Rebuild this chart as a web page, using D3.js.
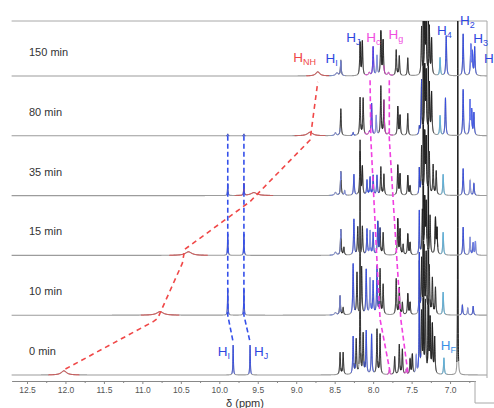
<!DOCTYPE html>
<html>
<head>
<meta charset="utf-8">
<script src="https://cdn.jsdelivr.net/npm/d3@7"></script>
<style>
body { margin: 0; background: #fff; }
svg { display: block; font-family: "Liberation Sans", Arial, sans-serif; }
</style>
</head>
<body>
<div id="chart"></div>
<script>
var svgWidth = 494
var svgHeight = 408

// stacked traces, bottom to top
var times = ["0 min", "10 min", "15 min", "35 min", "80 min", "150 min"]

var ppmTicks = [12.5, 12.0, 11.5, 11.0, 10.5, 10.0, 9.5, 9.0, 8.5, 8.0, 7.5, 7.0]
var minorTicks = [12.25, 11.75, 11.25, 10.75, 10.25, 9.75, 9.25, 8.75, 8.25, 7.75, 7.25, 6.75]

// peaks: [ppm, height (1 = gap between traces), colour key, half width in ppm]
var peaks0 = [
    [12.02, 0.07, "r", 0.04],
    [9.82, 0.5, "b", 0.004], [9.60, 0.5, "b", 0.004],
    [8.43, 0.37, "k"], [8.39, 0.37, "k"],
    [8.26, 0.63, "b"], [8.22, 0.58, "k"], [8.17, 3.9, "k", 0.003], [8.13, 0.67, "k"],
    [8.09, 0.72, "b"], [8.02, 0.67, "b"], [7.95, 0.75, "k"], [7.91, 0.67, "k"],
    [7.79, 0.08, "m"], [7.72, 0.3, "k"], [7.66, 0.5, "k"], [7.62, 0.42, "k"],
    [7.57, 0.08, "m"], [7.52, 0.25, "k"], [7.49, 0.33, "k"],
    [7.44, 0.3, "lb"], [7.40, 1.85, "b", 0.004],
    [7.37, 1.0, "k"], [7.347, 8, "k", 0.0015], [7.32, 1.2, "k"], [7.282, 8, "k", 0.0015],
    [7.26, 0.9, "k"], [7.23, 0.8, "k"], [7.20, 0.6, "k"],
    [7.08, 0.28, "c"], [6.90, 8, "k", 0.002]
]
var peaks10 = [
    [10.77, 0.06, "r", 0.05],
    [9.89, 0.43, "b", 0.004], [9.68, 0.43, "b", 0.004],
    [8.49, 0.04, "lb", 0.015],
    [8.43, 0.32, "k"], [8.39, 0.12, "k"],
    [8.26, 0.85, "b"], [8.21, 0.7, "k"], [8.15, 0.8, "k"], [8.09, 0.75, "b"],
    [8.04, 0.6, "lb"], [8.00, 0.55, "b"],
    [7.95, 0.8, "b"], [7.91, 0.75, "k"], [7.87, 0.5, "k"],
    [7.70, 0.6, "k"], [7.66, 0.45, "k"], [7.62, 0.2, "k"], [7.55, 0.35, "k"], [7.52, 0.2, "k"],
    [7.40, 1.0, "b", 0.004],
    [7.37, 0.9, "k"], [7.34, 1.1, "k"], [7.31, 1.0, "k"],
    [7.27, 0.8, "k"], [7.23, 0.6, "k"], [7.19, 0.45, "k"],
    [7.09, 0.38, "c"],
    [6.84, 0.17, "b"], [6.77, 0.12, "lb"], [6.70, 0.15, "b"]
]
var peaks15 = [
    [10.40, 0.06, "r", 0.05],
    [9.89, 0.36, "b", 0.004], [9.68, 0.36, "b", 0.004],
    [8.49, 0.05, "lb", 0.015],
    [8.42, 0.43, "k"], [8.38, 0.13, "k"],
    [8.25, 0.6, "b"], [8.20, 0.47, "k"], [8.14, 0.48, "k"], [8.08, 0.43, "b"],
    [8.04, 0.4, "lb"], [8.00, 0.37, "b"],
    [7.94, 0.55, "b"], [7.91, 0.43, "k"], [7.87, 0.37, "k"],
    [7.68, 0.6, "k"], [7.65, 0.42, "k"], [7.61, 0.17, "k"], [7.55, 0.35, "k"], [7.52, 0.2, "k"],
    [7.40, 0.73, "b", 0.004],
    [7.36, 0.72, "k"], [7.33, 0.9, "k"], [7.31, 0.83, "k"],
    [7.26, 0.65, "k"], [7.19, 0.6, "k"], [7.17, 0.42, "k"],
    [7.09, 0.38, "c"],
    [6.83, 0.47, "b"], [6.74, 0.3, "lb"], [6.70, 0.2, "b"], [6.67, 0.23, "lb"]
]
var peaks35 = [
    [9.55, 0.05, "r", 0.05],
    [9.89, 0.2, "b", 0.004], [9.68, 0.2, "b", 0.004],
    [8.49, 0.05, "lb", 0.015],
    [8.42, 0.4, "k"], [8.37, 0.08, "lb"],
    [8.25, 0.35, "b"], [8.17, 0.72, "k"], [8.14, 0.47, "k"],
    [8.08, 0.25, "b"], [8.04, 0.3, "b"], [8.00, 0.33, "b"],
    [7.95, 0.33, "b"], [7.90, 0.47, "k"], [7.86, 0.35, "k"],
    [7.68, 0.5, "k"], [7.65, 0.35, "k"], [7.55, 0.33, "k"], [7.52, 0.15, "k"],
    [7.40, 0.43, "b", 0.004],
    [7.37, 0.8, "k"], [7.33, 1.0, "k"], [7.31, 0.9, "k"],
    [7.27, 0.7, "k"], [7.22, 0.5, "k"], [7.18, 0.4, "k"],
    [7.09, 0.35, "c"],
    [6.83, 0.45, "b"], [6.74, 0.25, "lb"], [6.69, 0.2, "b"]
]
var peaks80 = [
    [8.82, 0.06, "r", 0.04],
    [9.89, 0.03, "b", 0.004], [9.68, 0.03, "b", 0.004],
    [8.49, 0.05, "lb", 0.012],
    [8.42, 0.45, "k"], [8.26, 0.05, "b"],
    [8.17, 0.63, "k"], [8.13, 0.62, "k"],
    [8.05, 0.05, "m", 0.012], [8.02, 0.53, "b"], [7.96, 0.33, "lb"],
    [7.90, 0.82, "k"], [7.86, 0.58, "k"], [7.80, 0.04, "m", 0.012],
    [7.68, 0.48, "k"], [7.65, 0.33, "k"], [7.55, 0.37, "k"],
    [7.40, 0.12, "b"],
    [7.37, 0.9, "k"], [7.33, 1.1, "k"], [7.31, 1.0, "k"],
    [7.27, 0.85, "k"], [7.24, 0.7, "k"],
    [7.13, 0.33, "c"], [7.06, 0.63, "b"],
    [6.83, 0.77, "b"], [6.74, 0.57, "b"], [6.72, 0.4, "lb"], [6.69, 0.37, "b"]
]
var peaks150 = [
    [8.72, 0.07, "r", 0.03],
    [8.47, 0.05, "lb", 0.02],
    [8.42, 0.25, "k"],
    [8.17, 0.55, "k"], [8.14, 0.57, "k"],
    [8.05, 0.05, "m", 0.012], [8.00, 0.48, "b"], [7.95, 0.33, "lb"],
    [7.90, 0.73, "k"], [7.87, 0.58, "k"], [7.80, 0.05, "m", 0.012],
    [7.70, 0.43, "k"], [7.66, 0.33, "k"], [7.55, 0.3, "k"],
    [7.37, 0.8, "k"], [7.33, 1.0, "k"], [7.31, 0.9, "k"],
    [7.27, 0.8, "k"], [7.24, 0.6, "k"],
    [7.13, 0.3, "c"], [7.05, 0.67, "b"],
    [6.83, 0.7, "b"], [6.73, 0.5, "b"], [6.71, 0.37, "lb"], [6.68, 0.47, "b"]
]
var spectra = [peaks0, peaks10, peaks15, peaks35, peaks80, peaks150]

// dashed guides that follow the moving signals: [ppm, trace level]
var hnhTrack = [[12.0, 0.1], [10.85, 0.9], [10.8, 0.95], [10.48, 1.87], [10.45, 2.1], [9.6, 2.9], [8.82, 3.93], [8.72, 4.9]]
var hiTrack = [[9.89, 4.0], [9.89, 1.0], [9.82, 0.55]]
var hjTrack = [[9.68, 4.0], [9.68, 1.0], [9.60, 0.55]]
var hcTrack = [[8.04, 4.93], [8.03, 3.95], [7.95, 1.9], [7.91, 0.93], [7.78, 0.05]]
var hgTrack = [[7.79, 4.93], [7.79, 3.95], [7.69, 1.9], [7.64, 0.93], [7.55, 0.05]]

// peak assignments: [main, subscript, ppm, level, colour key]
var assignLabels = [
    ["H", "NH", 9.04, 5.23, "r"],
    ["H", "I", 8.62, 5.22, "B"],
    ["H", "J", 8.35, 5.57, "B"],
    ["H", "c", 8.09, 5.57, "M"],
    ["H", "g", 7.80, 5.62, "M"],
    ["H", "4", 7.17, 5.68, "B"],
    ["H", "2", 6.87, 5.85, "B"],
    ["H", "3", 6.70, 5.55, "B"],
    ["H", "", 6.56, 5.22, "B"],
    ["H", "I", 10.02, 0.32, "B"],
    ["H", "J", 9.55, 0.32, "B"],
    ["H", "F", 7.12, 0.42, "F"]
]

var colors = {
    k: "#1e1e1e", b: "#2f47e6", lb: "#8090f0", c: "#52b6e6", m: "#f03ce0", r: "#f04848",
    B: "#2f47e0", M: "#f04ee0", F: "#3a8fe6"
}

var svg = d3.select("#chart").append("svg").attr("width", svgWidth).attr("height", svgHeight)

var x = d3.scaleLinear().domain([12.7, 6.52]).range([11.6, 487])
var y = d3.scaleLinear().domain([0, 5]).range([375, 76])

var line = d3.line().x(d => x(d[0])).y(d => y(d[1]))

function lor(ppm, pk) {
    var g = pk[3] || 0.006
    var d = ppm - pk[0]
    return pk[1] * g * g / (g * g + d * d)
}
function total(ppm, peaks) {
    return d3.sum(peaks, p => lor(ppm, p))
}

svg.append("clipPath").attr("id", "plotClip")
    .append("rect").attr("x", 0).attr("y", 21).attr("width", svgWidth).attr("height", svgHeight - 21)

// frame
svg.append("path")
    .attr("d", `M${x(12.7)},21 H487 V378`)
    .attr("fill", "none").attr("stroke", "#a8a8a8").attr("stroke-width", 1)

var specGroup = svg.append("g").attr("clip-path", "url(#plotClip)")

spectra.forEach(function (peaks, i) {
    var grid = d3.range(12.7, 6.52, -0.0015).concat(peaks.map(p => p[0])).sort((a, b) => b - a)
    specGroup.append("path")
        .attr("d", line(grid.map(p => [p, i + total(p, peaks)])))
        .attr("fill", "none").attr("stroke", "#9c9c9c").attr("stroke-width", 1.1)

    var ordered = peaks.filter(p => p[2] == "k").concat(peaks.filter(p => p[2] != "k"))
    ordered.forEach(function (pk) {
        var g = pk[3] || 0.006
        var w = Math.max(5 * g, 0.012)
        var sub = d3.range(pk[0] + w, pk[0] - w, -0.0005).concat([pk[0]]).sort((a, b) => b - a)
        specGroup.append("path")
            .attr("d", line(sub.map(p => [p, i + total(p, peaks)])))
            .attr("fill", "none")
            .attr("stroke", colors[pk[2]])
            .attr("stroke-width", pk[1] > 5 ? 1.0 : (pk[2] == "k" ? 0.8 : 0.9))
    })
})

// time labels
svg.selectAll(".timeLabel").data(times).enter().append("text")
    .attr("class", "timeLabel")
    .attr("x", 29)
    .attr("y", (d, i) => y(i) - 20)
    .attr("font-size", "11px")
    .attr("fill", "#333")
    .text(d => d)

// dashed guides
var guides = [[hnhTrack, colors.r, "5,4"], [hiTrack, "#3550ea", "5,3"], [hjTrack, "#3550ea", "5,3"],
              [hcTrack, "#f040e0", "5,3"], [hgTrack, "#f040e0", "5,3"]]
guides.forEach(function (gd) {
    svg.append("path")
        .attr("d", line(gd[0]))
        .attr("fill", "none")
        .attr("stroke", gd[1])
        .attr("stroke-width", 1.6)
        .attr("stroke-dasharray", gd[2])
})

// assignment labels
assignLabels.forEach(function (lb) {
    var t = svg.append("text")
        .attr("x", x(lb[2]))
        .attr("y", y(lb[3]))
        .attr("font-size", "13.5px")
        .attr("fill", colors[lb[4]])
    t.append("tspan").text(lb[0])
    if (lb[1]) t.append("tspan").attr("font-size", "9px").attr("dy", 3).text(lb[1])
})

// axis
var axisScale = d3.scaleLinear().domain([12.7, 6.67]).range([x(12.7), x(6.67)])
var axisG = svg.append("g").attr("transform", "translate(0,381)")
    .call(d3.axisBottom(axisScale).tickValues(ppmTicks).tickFormat(d3.format(".1f")).tickSize(3).tickSizeOuter(0))
svg.append("g").attr("transform", "translate(0,381)")
    .call(d3.axisBottom(axisScale).tickValues(minorTicks).tickFormat("").tickSize(2).tickSizeOuter(0))
    .select(".domain").remove()
svg.selectAll(".domain, .tick line").attr("stroke", "#888")
axisG.selectAll("text").attr("font-size", "8.5px").attr("fill", "#555").attr("font-family", "Liberation Sans, Arial, sans-serif")

svg.append("path")
    .attr("d", "M475,381 V403 H494")
    .attr("fill", "none").attr("stroke", "#a8a8a8")

svg.append("text")
    .attr("x", 245)
    .attr("y", 407)
    .attr("text-anchor", "middle")
    .attr("font-size", "11px")
    .attr("fill", "#333")
    .text("δ (ppm)")
</script>
</body>
</html>
